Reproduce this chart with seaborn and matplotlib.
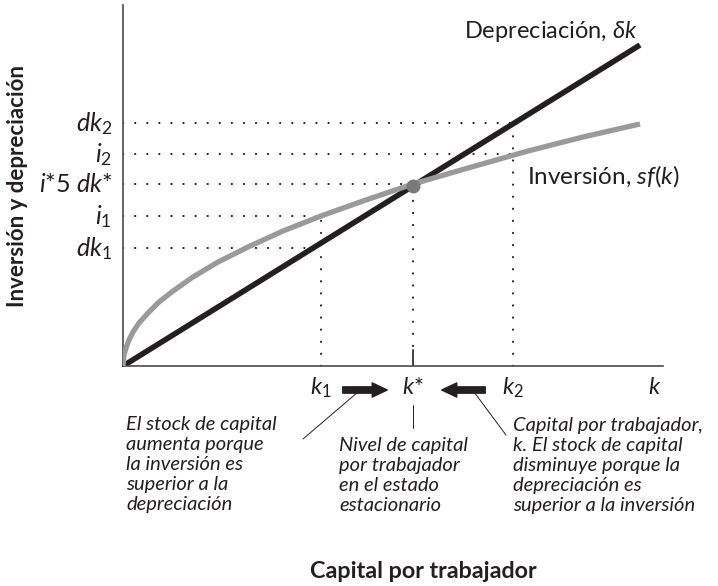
import matplotlib
matplotlib.use("Agg")
import matplotlib.pyplot as plt
import seaborn as sns
import pandas as pd

# ================================================
#  Datos
# ================================================

# Curva de inversion sf(k), puntos leidos sobre la curva gris
k_curva = [0.00, 0.01, 0.03, 0.06, 0.10, 0.16, 0.25, 0.36, 0.50, 0.70,
           0.95, 1.25, 1.60, 1.98, 2.40, 2.90, 3.45, 4.05, 4.60, 5.17]
inversion = [0.00, 0.11, 0.18, 0.26, 0.34, 0.43, 0.53, 0.64, 0.75, 0.89,
             1.04, 1.19, 1.35, 1.50, 1.65, 1.82, 1.98, 2.15, 2.29, 2.42]

# Recta de depreciacion (extremos)
k_dep = [0.00, 5.17]
depreciacion = [0.00, 3.21]

# Valores de k marcados en el eje
k1, k_est, k2 = 1.98, 2.90, 3.90

# Niveles del eje vertical y hasta donde llega cada linea punteada
etiquetas_y = [r'$dk_2$', r'$i_2$', r'$i$*5 $dk$*', r'$i_1$', r'$dk_1$']
niveles_y = [2.43, 2.12, 1.82, 1.50, 1.18]
fin_punteado = [k2, k2, k_est, k1, 1.90]

# Lineas punteadas verticales: (k, desde, hasta)
verticales = [(k1, 0.00, 1.46), (k_est, 0.20, 1.76), (k2, 0.00, 2.40)]

df_inv = pd.DataFrame({'k': k_curva, 'y': inversion})
df_dep = pd.DataFrame({'k': k_dep, 'y': depreciacion})

# ================================================
#  Estilo
# ================================================
sns.set_theme(style='white')
plt.rcParams['font.family'] = ['Lato', 'DejaVu Sans']
plt.rcParams['mathtext.fontset'] = 'custom'
plt.rcParams['mathtext.rm'] = 'Lato'
plt.rcParams['mathtext.it'] = 'Lato:italic'
plt.rcParams['mathtext.bf'] = 'Lato:bold'

fig = plt.figure(figsize=(7.18, 5.86), dpi=100)
ax = fig.add_axes([123 / 718, 220 / 586, 540 / 718, 361 / 586])

# ================================================
#  Grafico
# ================================================
punto = (0, (0.1, 5.7))
ax.hlines(niveles_y, 0, fin_punteado, colors='#231f20', linestyles=[punto],
          lw=1.5, capstyle='round', zorder=1)
for kx, y0, y1 in verticales:
    ax.vlines(kx, y0, y1, colors='#231f20', linestyles=[punto], lw=1.5,
              capstyle='round', zorder=1)

sns.lineplot(data=df_inv, x='k', y='y', color='#9a9a9a', lw=3.8,
             solid_capstyle='butt', ax=ax, zorder=3)
sns.lineplot(data=df_dep, x='k', y='y', color='#231f20', lw=4.0,
             solid_capstyle='butt', ax=ax, zorder=2)
ax.plot([k_est], [depreciacion[1] / k_dep[1] * k_est], 'o', color='#7a7a7a',
        ms=9, zorder=4)

# pequeña marca solida en k*
ax.plot([k_est, k_est], [0, 0.16], color='#231f20', lw=1.2)

ax.set_xlim(0, 5.40)
ax.set_ylim(0, 3.61)
ax.set_xticks([])
ax.set_yticks([])
ax.set_xlabel('')
ax.set_ylabel('')
for lado in ['top', 'right']:
    ax.spines[lado].set_visible(False)
for lado in ['left', 'bottom']:
    ax.spines[lado].set_color('#4a4a4a')
    ax.spines[lado].set_linewidth(1.2)

# ================================================
#  Textos
# ================================================
ax.text(5.15, 3.35, r'Depreciación, $\delta k$', ha='right', va='center',
        fontsize=17, color='#231f20')
ax.text(4.04, 1.90, r'Inversión, $sf$($k$)', ha='left', va='center',
        fontsize=17.5, color='#231f20')

for etiqueta, nivel in zip(etiquetas_y, niveles_y):
    ax.text(-0.11, nivel - 0.08, etiqueta, ha='right', va='baseline',
            fontsize=18, color='#231f20')

for etiqueta, kx in zip([r'$k_1$', r'$k$*', r'$k_2$', r'$k$'], [k1, k_est, k2, 5.32]):
    ax.text(kx, -0.28, etiqueta, ha='center', va='baseline', fontsize=17,
            color='#231f20')

# Flechas de ajuste hacia k*
flecha = dict(arrowstyle='simple,head_length=0.9,head_width=0.85,tail_width=0.38',
              color='#231f20', mutation_scale=12)
ax.annotate('', xy=(k_est - 0.23, -0.24), xytext=(k1 + 0.19, -0.24),
            arrowprops=flecha, annotation_clip=False)
ax.annotate('', xy=(k_est + 0.26, -0.24), xytext=(k2 - 0.25, -0.24),
            arrowprops=flecha, annotation_clip=False)

# Lineas que señalan los comentarios
ax.plot([1.80, 2.35], [-0.73, -0.26], color='#231f20', lw=0.7, clip_on=False)
ax.plot([k_est, k_est], [-0.39, -0.62], color='#231f20', lw=0.7, clip_on=False)
ax.plot([3.83, 3.51], [-0.69, -0.26], color='#231f20', lw=0.7, clip_on=False)

nota = dict(fontsize=14.5, style='italic', color='#231f20', va='top', ha='left',
            linespacing=1.22)
ax.text(0.03, -0.50, 'El stock de capital\naumenta porque\nla inversión es\n'
        'superior a la\ndepreciación', **nota)
ax.text(2.16, -0.71, 'Nivel de capital\npor trabajador\nen el estado\nestacionario', **nota)
ax.text(3.90, -0.51, 'Capital por trabajador,\nk. El stock de capital\n'
        'disminuye porque la\ndepreciación es\nsuperior a la inversión', **nota)

# Titulos de los ejes
ax.text(3.00, -2.05, 'Capital por trabajador', ha='center', va='center',
        fontsize=16.8, fontweight='bold', color='#231f20')
ax.text(-1.05, 1.80, 'Inversión y depreciación', ha='center', va='center',
        rotation=90, fontsize=16, fontweight='bold', color='#231f20')

fig.savefig('out.png', dpi=100)
